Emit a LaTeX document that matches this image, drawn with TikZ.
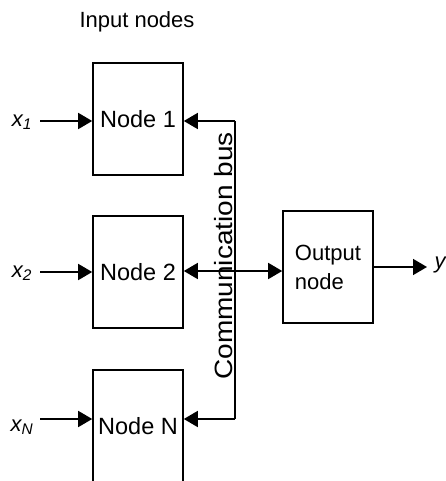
\documentclass[tikz,border=0pt]{standalone}
\usepackage{fontspec}
\setmainfont{Liberation Sans}
\usepackage{tikz}
\usetikzlibrary{arrows.meta}

\tikzset{
  box/.style={draw,line width=1.6pt,minimum width=90pt,minimum height=112pt,inner sep=2pt},
  tip/.tip={Triangle[length=14pt,width=16pt]},
  link/.style={line width=1.6pt,-tip},
  duplex/.style={line width=1.6pt,tip-tip},
  lbl/.style={font=\fontsize{22}{29}\selectfont},
  big/.style={font=\fontsize{23.5}{29}\selectfont}
}

\begin{document}
\begin{tikzpicture}[x=1pt,y=-1pt]
\useasboundingbox (0,0) rectangle (446,481);
\node[lbl] (title) at (137,22) {Input nodes};
\node[box,big] (n1) at (138,119) {Node 1};
\node[box,big] (n2) at (138,272) {Node 2};
\node[box,big] (nN) at (138,426) {Node N};
\node[box,lbl,align=left] (out) at (328,267) {Output\\node};
\node[lbl] (x1) at (22,122) {\itshape x\textsubscript{1}};
\node[lbl] (x2) at (22,273) {\itshape x\textsubscript{2}};
\node[lbl] (xN) at (22,427) {\itshape x\textsubscript{N}};
\node[lbl] (y) at (440,265) {\itshape y};
\coordinate (top) at (235,121);
\coordinate (bot) at (235,419);
% inputs
\draw[link] (40,121) -- (n1.west |- 0,121);
\draw[link] (40,272) -- (n2.west |- 0,272);
\draw[link] (40,419) -- (nN.west |- 0,419);
% bus
\draw[link] (top) -- (n1.east |- top);
\draw[link] (bot) -- (nN.east |- bot);
\draw[line width=1.6pt] (top) -- (bot);
\draw[duplex] (n2.east |- 0,271) -- (out.west |- 0,271);
\node[rotate=90,anchor=south,font=\fontsize{25}{29}\selectfont\addfontfeature{FakeStretch=1.12}] (bus) at (236,256) {Communication bus};
% output
\draw[link] (out.east |- 0,267) -- (427,267);
\end{tikzpicture}
\end{document}
